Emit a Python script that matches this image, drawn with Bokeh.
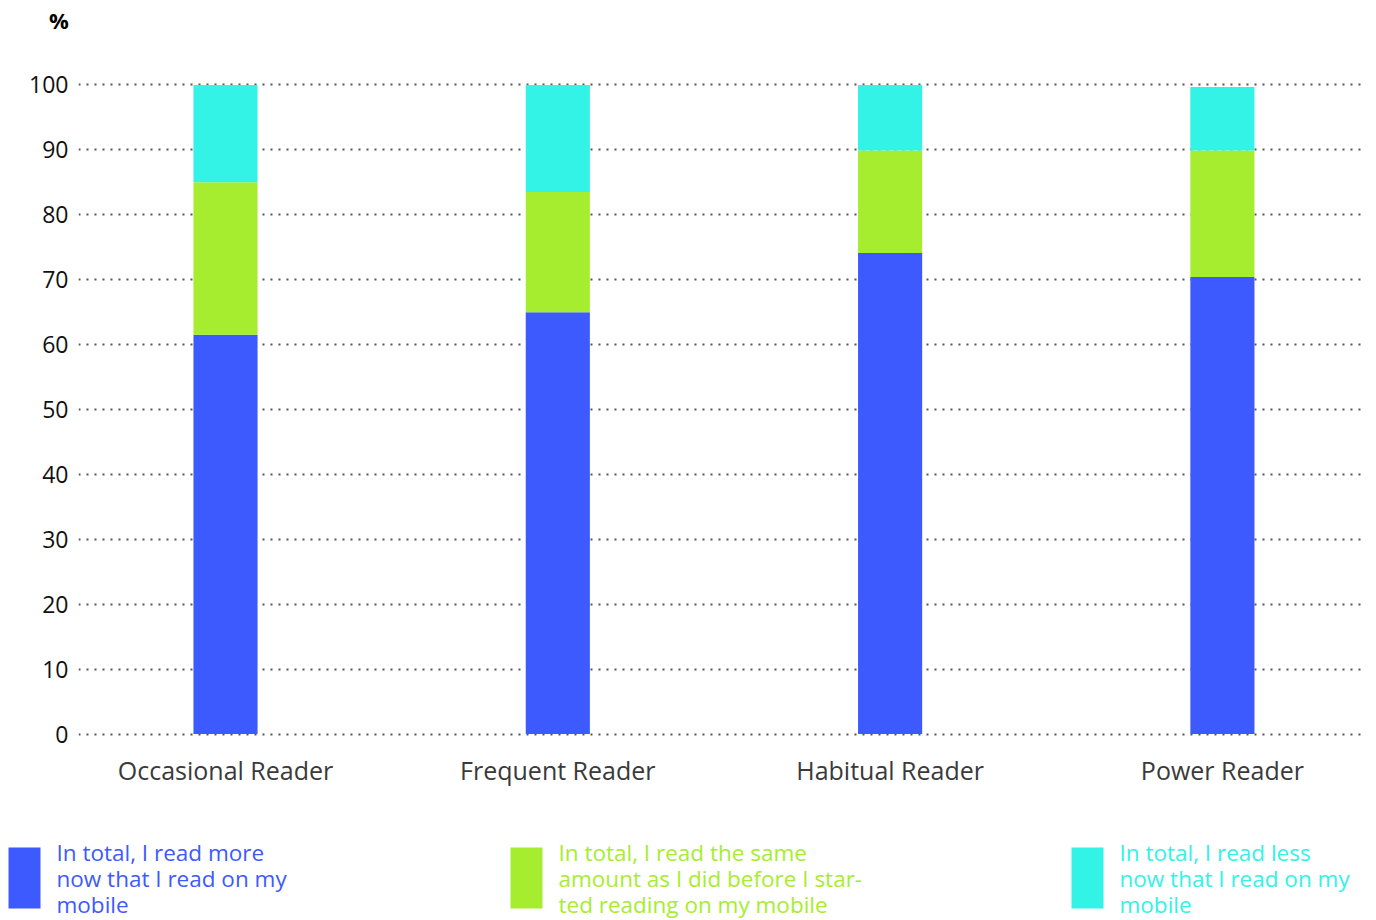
from bokeh.plotting import figure
from bokeh.models import Range1d, FixedTicker, ColumnDataSource
from bokeh.layouts import column
from bokeh.embed import file_html
from bokeh.resources import INLINE
from bokeh.core.properties import value

# ---- data ----
categories = ["Occasional Reader", "Frequent Reader", "Habitual Reader", "Power Reader"]
read_more = [61.5, 65.0, 74.1, 70.4]
read_same = [23.5, 18.5, 15.8, 19.5]
read_less = [15.0, 16.5, 10.1, 9.8]
y_ticks = [0, 10, 20, 30, 40, 50, 60, 70, 80, 90, 100]
y_unit = "%"
series_keys = ["more", "same", "less"]
series_labels = [
    "In total, I read more\nnow that I read on my\nmobile",
    "In total, I read the same\namount as I did before I star-\nted reading on my mobile",
    "In total, I read less\nnow that I read on my\nmobile",
]
colors = ["#3D5AFE", "#A6ED30", "#33F2E6"]

FONT = "Open Sans"


def no_align(fig):
    if "frame_align" in fig.properties():
        fig.frame_align = False


# ---- top strip with the unit label ----
tp = figure(width=1376, height=40, x_range=Range1d(0, 1376), y_range=Range1d(0, 40),
            output_backend="svg", toolbar_location=None,
            x_axis_location=None, y_axis_location=None, min_border=0)
tp.outline_line_color = None
tp.grid.visible = False
no_align(tp)
tp.text(x=[58.5], y=[20.5], text=[y_unit], text_font=value(FONT),
        text_font_size="22px", text_font_style="bold", text_color="#000000",
        text_align="center", text_baseline="middle")

# ---- main chart ----
xs = list(range(len(categories)))
source = ColumnDataSource(dict(x=xs, more=read_more, same=read_same, less=read_less))

p = figure(width=1376, height=760,
           x_range=Range1d(-0.4424, 3.4276), y_range=Range1d(-1, 101),
           output_backend="svg", toolbar_location=None,
           min_border_left=78, min_border_right=12,
           min_border_top=38, min_border_bottom=60)
p.outline_line_color = None
no_align(p)

p.vbar_stack(series_keys, x="x", width=0.193, source=source,
             fill_color=colors, line_color=None)

p.xaxis.ticker = FixedTicker(ticks=xs)
p.xaxis.major_label_overrides = {i: c for i, c in enumerate(categories)}
p.xaxis.axis_line_color = None
p.xaxis.major_tick_line_color = None
p.xaxis.minor_tick_line_color = None
p.xaxis.major_label_standoff = 6
p.xaxis.major_label_text_font = FONT
p.xaxis.major_label_text_font_size = "25px"
p.xaxis.major_label_text_color = "#3a3a3a"

p.yaxis.ticker = FixedTicker(ticks=y_ticks)
p.yaxis.axis_line_color = None
p.yaxis.major_tick_line_color = None
p.yaxis.minor_tick_line_color = None
p.yaxis.major_label_standoff = 4
p.yaxis.major_label_text_font = FONT
p.yaxis.major_label_text_font_size = "23px"
p.yaxis.major_label_text_color = "#111111"

p.xgrid.grid_line_color = None
p.ygrid.ticker = FixedTicker(ticks=y_ticks)
p.ygrid.grid_line_color = "#555555"
p.ygrid.grid_line_width = 2.2
p.ygrid.grid_line_dash = "2 6"

# ---- legend strip (data units = pixels) ----
lg = figure(width=1376, height=120, x_range=Range1d(0, 1376), y_range=Range1d(0, 120),
            output_backend="svg", toolbar_location=None,
            x_axis_location=None, y_axis_location=None, min_border=0)
lg.outline_line_color = None
lg.grid.visible = False
no_align(lg)

leg_left = [8, 510, 1071]
leg_src = ColumnDataSource(dict(
    left=leg_left,
    right=[l + 32 for l in leg_left],
    top=[73, 73, 73],
    bottom=[12, 12, 12],
    tx=[l + 48 for l in leg_left],
    ty=[84, 84, 84],
    label=series_labels,
    color=colors,
))
lg.quad(left="left", right="right", top="top", bottom="bottom",
        fill_color="color", line_color=None, source=leg_src)
lg.text(x="tx", y="ty", text="label", text_color="color", source=leg_src,
        text_font=value(FONT), text_font_size="22.5px", text_baseline="top",
        text_line_height=0.85)

layout = column(tp, p, lg, spacing=0)
open("out.html", "w").write(file_html(layout, INLINE))
